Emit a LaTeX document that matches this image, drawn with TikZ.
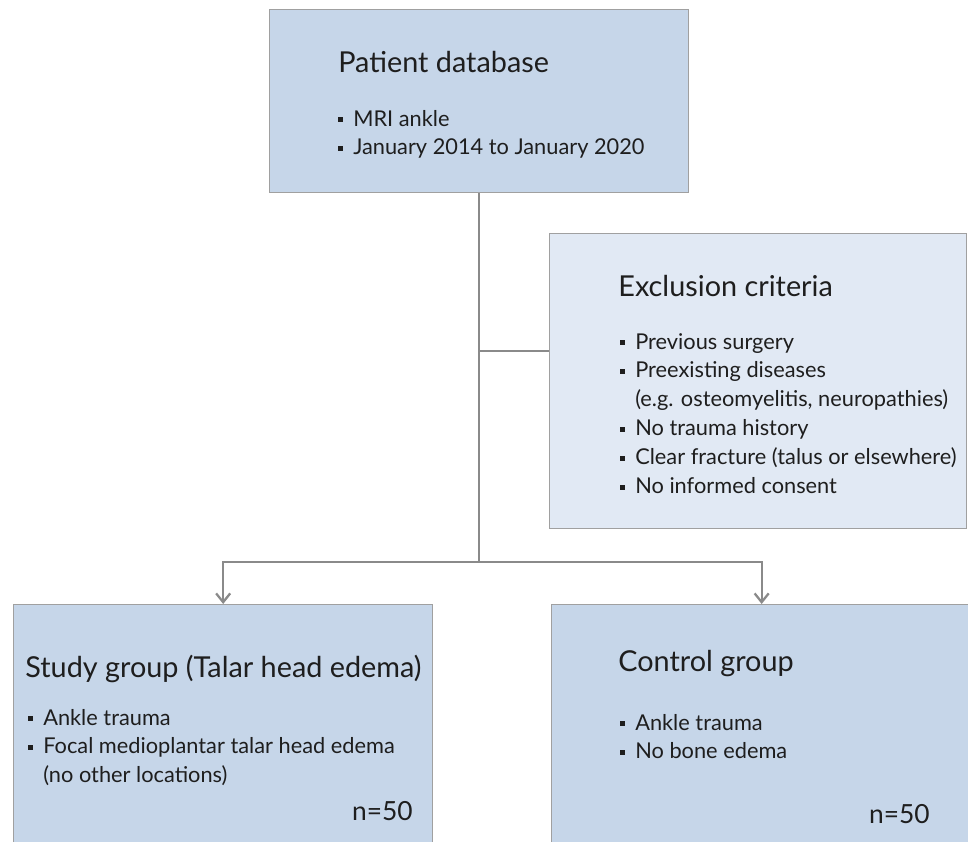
\documentclass[tikz,border=0pt]{standalone}
\usepackage{fontspec}
\setmainfont{Lato}
\usetikzlibrary{arrows.meta, positioning, calc}
\definecolor{boxblue}{RGB}{198,214,233}
\definecolor{paleblue}{RGB}{225,233,244}
\definecolor{rimgray}{RGB}{160,160,160}
\definecolor{linkgray}{RGB}{138,138,138}
\definecolor{inkdark}{RGB}{30,30,30}
\newcommand{\blt}{\makebox[8.5pt][l]{\rule[2.5pt]{2.5pt}{2.5pt}}}

\tikzset{
  box/.style={draw=rimgray, line width=0.8pt, fill=boxblue, anchor=north west, inner sep=0pt},
  title/.style={anchor=base west, inner sep=0pt, text=inkdark, font=\fontsize{16.4}{19}\selectfont},
  items/.style={anchor=base west, inner sep=0pt, text=inkdark, font=\fontsize{12.4}{16.5}\selectfont},
  count/.style={anchor=base east, inner sep=0pt, text=inkdark, font=\fontsize{15}{18}\selectfont},
  link/.style={draw=linkgray, line width=1.3pt},
  arrow/.style={link, -{Straight Barb[length=5pt, width=8pt]}},
}

\begin{document}
\begin{tikzpicture}[x=0.02cm, y=-0.02cm]
  \path[use as bounding box, clip] (0,0) rectangle (968,842);

  % boxes
  \node[box, minimum width=8.38cm, minimum height=3.66cm] (db) at (269,9) {};
  \node[box, fill=paleblue, minimum width=8.34cm, minimum height=5.9cm] (excl) at (549,233) {};
  \node[box, minimum width=8.38cm, minimum height=5cm] (study) at (13,604) {};
  \node[box, minimum width=8.4cm, minimum height=5cm] (control) at (551,604) {};

  % patient database
  \node[title] (db-title) at (338,72) {Patient database};
  \node[items] (db-list) at (338,126) {\begin{minipage}[t]{7.5cm}
    \blt MRI ankle\\
    \blt January 2014 to January 2020
  \end{minipage}};

  % exclusion criteria
  \node[title] (excl-title) at (618,296) {Exclusion criteria};
  \node[items] (excl-list) at (620,349) {\begin{minipage}[t]{7cm}
    \blt Previous surgery\\
    \blt Preexisting diseases\\
    \hspace*{8.5pt}(e.g. osteomyelitis, neuropathies)\\
    \blt No trauma history\\
    \blt Clear fracture (talus or elsewhere)\\
    \blt No informed consent
  \end{minipage}};

  % study group
  \node[title] (study-title) at (25,677) {Study group (Talar head edema)};
  \node[items] (study-list) at (28,725) {\begin{minipage}[t]{7.5cm}
    \blt Ankle trauma\\
    \blt Focal medioplantar talar head edema\\
    \hspace*{8.5pt}(no other locations)
  \end{minipage}};
  \node[count] (study-n) at (413,820) {n=50};

  % control group
  \node[title] (control-title) at (618,671) {Control group};
  \node[items] (control-list) at (620,730) {\begin{minipage}[t]{7cm}
    \blt Ankle trauma\\
    \blt No bone edema
  \end{minipage}};
  \node[count] (control-n) at (930,823) {n=50};

  % connectors
  \coordinate (split) at ($(db.south)+(0,-7.38cm)$);
  \coordinate (tap) at ($(excl.west)+(0,0.6cm)$);
  \draw[link] (db.south) -- (split);
  \draw[link] (tap -| db.south) -- (tap);
  \draw[arrow] (split) -| (study.north);
  \draw[arrow] (split) -| (control.north);
\end{tikzpicture}
\end{document}
